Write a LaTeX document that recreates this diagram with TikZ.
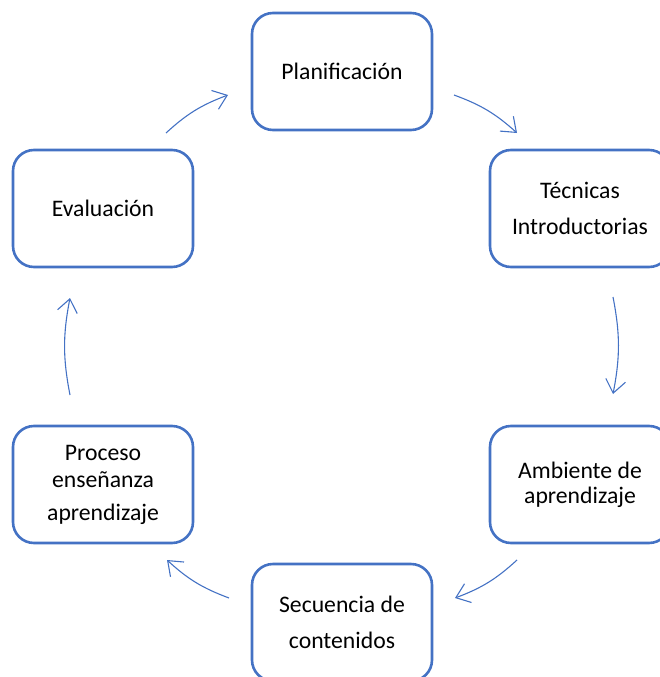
\documentclass[tikz,border=0pt]{standalone}
\usepackage{fontspec}
\setmainfont{Carlito}
\usetikzlibrary{arrows.meta}
\definecolor{ofblue}{HTML}{4472C4}
\tikzset{
  stage/.style={draw=ofblue, line width=2.6pt, rounded corners=21pt, fill=white,
    minimum width=180pt, minimum height=117pt, align=center, inner sep=0pt,
    font=\fontsize{23.7}{25}\selectfont},
  flow/.style={draw=ofblue, line width=1.1pt, bend left=11,
    -{Straight Barb[length=13pt,width=20pt,line width=1.1pt]}}
}
\begin{document}
\begin{tikzpicture}[x=1pt,y=1pt]
\useasboundingbox (0,0) rectangle (660,-677);
\clip (0,0) rectangle (660,-677);
\node[stage] (plan) at (342,-71.5) {Planificación};
\node[stage] (tec) at (580,-208.5) {Técnicas\\[11pt]Introductorias};
\node[stage] (amb) at (580,-484.5) {Ambiente de\\aprendizaje};
\node[stage] (sec) at (342,-622.5) {Secuencia de\\[11pt]contenidos};
\node[stage] (proc) at (103,-484.5) {Proceso\\[2pt]enseñanza\\[8pt]aprendizaje};
\node[stage] (eval) at (103,-208.5) {Evaluación};
\coordinate (a1s) at (166,-133); \coordinate (a1e) at (228,-95);
\coordinate (a2s) at (454,-95); \coordinate (a2e) at (517,-133);
\coordinate (a3s) at (613,-297); \coordinate (a3e) at (613,-394);
\coordinate (a4s) at (517,-560); \coordinate (a4e) at (455,-598);
\coordinate (a5s) at (229,-598); \coordinate (a5e) at (167,-560);
\coordinate (a6s) at (70,-395); \coordinate (a6e) at (70,-298);
\draw[flow] (a1s) to (a1e);
\draw[flow] (a2s) to (a2e);
\draw[flow] (a3s) to (a3e);
\draw[flow] (a4s) to (a4e);
\draw[flow] (a5s) to (a5e);
\draw[flow] (a6s) to (a6e);
\end{tikzpicture}
\end{document}
